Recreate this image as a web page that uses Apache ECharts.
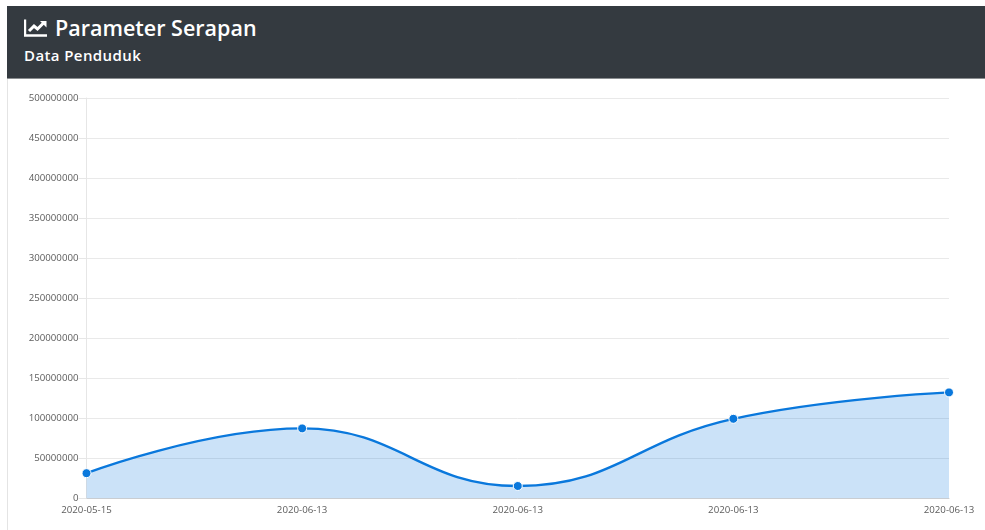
<!DOCTYPE html>
<html>
<head>
<meta charset="utf-8">
<title>Parameter Serapan</title>
<script src="https://cdn.jsdelivr.net/npm/echarts@6/dist/echarts.min.js"></script>
<style>
html, body { margin: 0; padding: 0; background: #fff; overflow: hidden; }
body { width: 985px; height: 530px; position: relative; font-family: "Open Sans", sans-serif; }
.card-border { position: absolute; left: 7px; top: 6px; width: 978px; height: 524px; border-left: 1px solid #e4e4e4; border-top: 1px solid #e4e4e4; box-sizing: border-box; }
.card-head { position: absolute; left: 7px; top: 6px; width: 978px; height: 73px; background: #343a40; color: #fff; border-bottom: 1px solid #8a8d90; box-sizing: border-box; }
.card-head svg { position: absolute; left: 17px; top: 12px; }
.card-head .title { position: absolute; left: 48px; top: 6px; font-size: 21.5px; line-height: 32px; font-weight: 600; }
.card-head .sub { position: absolute; left: 17px; top: 38px; font-size: 15px; line-height: 22px; font-weight: 600; letter-spacing: 0.4px; }
#chart { position: absolute; left: 0; top: 0; width: 985px; height: 530px; }
</style>
</head>
<body>
<div id="chart"></div>
<div class="card-border"></div>
<div class="card-head">
    <svg width="24" height="20" viewBox="0 0 24 20">
        <path d="M1 1.5V17.5H23" fill="none" stroke="#fff" stroke-width="2.4"/>
        <path d="M5 13L10 8L13.5 11L20 4.5" fill="none" stroke="#fff" stroke-width="3"/>
        <path d="M16 3H22.5V9.5Z" fill="#fff"/>
    </svg>
    <div class="title">Parameter Serapan</div>
    <div class="sub">Data Penduduk</div>
</div>
<script>
const categories = ['2020-05-15', '2020-06-13', '2020-06-13', '2020-06-13', '2020-06-13']
const penduduk = [31000000, 87000000, 15000000, 99000000, 132000000]

const chart = echarts.init(document.getElementById('chart'))

chart.setOption({
    animation: false,
    grid: { left: 86.5, right: 36, top: 98, bottom: 32 },
    textStyle: { fontFamily: 'Open Sans' },
    xAxis: {
        type: 'category',
        data: categories,
        boundaryGap: false,
        axisLine: { lineStyle: { color: '#c9cdd2', width: 1 } },
        axisTick: { show: false },
        axisLabel: { color: '#5c5c5c', fontSize: 9.7, margin: 7, interval: 0 },
        splitLine: { show: false }
    },
    yAxis: {
        type: 'value',
        min: 0,
        max: 500000000,
        interval: 50000000,
        axisLine: { show: true, lineStyle: { color: '#e6e6e6', width: 1 } },
        axisTick: { show: true, length: 8, lineStyle: { color: '#e6e6e6' } },
        axisLabel: { color: '#5c5c5c', fontSize: 9.7, margin: 8, formatter: (value) => String(value) },
        splitLine: { lineStyle: { color: '#e9e9e9', width: 1 } }
    },
    series: [
        {
            name: 'Data Penduduk',
            type: 'line',
            data: penduduk,
            smooth: 0.45,
            symbol: 'circle',
            symbolSize: 9,
            lineStyle: { color: '#0a78dc', width: 2.4 },
            itemStyle: { color: '#0a78dc', borderColor: '#fff', borderWidth: 1 },
            areaStyle: { color: 'rgba(10, 120, 220, 0.21)', opacity: 1 }
        }
    ]
})
</script>
</body>
</html>
